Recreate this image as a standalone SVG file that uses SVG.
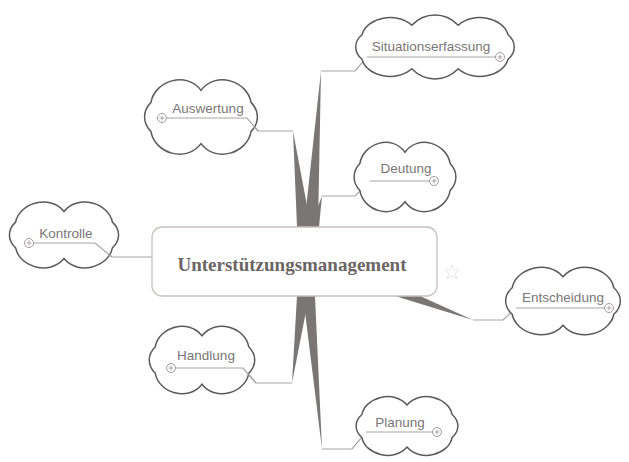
<svg xmlns="http://www.w3.org/2000/svg" xmlns:xlink="http://www.w3.org/1999/xlink" width="629" height="462" viewBox="0 0 629 462">
<style>
.cloud{fill:#fff;stroke:#5e5959;stroke-width:1.5}
.lbl{font-family:"Liberation Sans",Arial,sans-serif;font-size:13.5px;fill:#7a7676;text-anchor:middle}
.conn{fill:none;stroke:#a9a3a3;stroke-width:1.2}
.wedge{fill:#7b7676;stroke:none}
.exp{fill:#fff;stroke:#a29c9c;stroke-width:1}
.plus{stroke:#a29c9c;stroke-width:0.9}
</style>
<defs>
<path id="c2" vector-effect="non-scaling-stroke" d="M 9,33 C 12,8 38,-4 50,19 C 62,-4 88,8 91,33 C 98,43 98,57 91,67 C 88,92 62,104 50,81 C 38,104 12,92 9,67 C 2,57 2,43 9,33 Z"/>
<path id="c3" vector-effect="non-scaling-stroke" d="M 6,32 C 9,6 27,-2 36,18 C 44,-2 56,-2 64,18 C 73,-2 91,6 94,32 C 99,42 99,58 94,68 C 91,94 73,102 64,82 C 56,102 44,102 36,82 C 27,102 9,94 6,68 C 1,58 1,42 6,32 Z"/>
<g id="pl"><circle class="exp" r="4.5"/><path class="plus" d="M -2.5,0 H 2.5 M 0,-2.5 V 2.5"/></g>
</defs>
<rect width="629" height="462" fill="#fff"/>
<g id="connectors">
<polygon class="wedge" points="293,131 297,227 311,227"/>
<polygon class="wedge" points="321,71 304,227 318,227"/>
<polygon class="wedge" points="322,196 310,227 319,227"/>
<polygon class="wedge" points="292,383 297,296 309,296"/>
<polygon class="wedge" points="322,449 303,296 315,296"/>
<polygon class="wedge" points="395,296 420,296 473,320"/>
<polyline class="conn" points="166,118 247,118 258,131 293,131"/>
<polyline class="conn" points="321,71 355,71 367,57 496,57"/>
<polyline class="conn" points="322,196 355,196 370,181 430,181"/>
<polyline class="conn" points="33,243 95,243 112,257 152,257"/>
<polyline class="conn" points="473,320 503,320 516,308 605,308"/>
<polyline class="conn" points="175,368 243,368 256,383 292,383"/>
<polyline class="conn" points="322,449 352,449 366,432 433,432"/>
</g>
<g id="center">
<rect x="152" y="227" width="285" height="69" rx="10" fill="#fff" stroke="#c9bfbf" stroke-width="1.3"/>
<text x="292" y="271" text-anchor="middle" font-family="'Liberation Serif','Times New Roman',serif" font-weight="bold" font-size="19" fill="#6b6565">Unterstützungsmanagement</text>
<path d="M452,265 L454,270 L459,270 L455,273.5 L457,279 L452,275.5 L447,279 L449,273.5 L445,270 L450,270 Z" fill="none" stroke="#ece6e6" stroke-width="1"/>
</g>
<g id="n-situationserfassung">
<use xlink:href="#c3" class="cloud" transform="translate(352,13) scale(1.66,0.68)"/>
<polyline class="conn" points="367,57 496,57"/>
<text class="lbl" x="431" y="51">Situationserfassung</text>
<use xlink:href="#pl" x="500" y="57"/>
</g>
<g id="n-auswertung">
<use xlink:href="#c2" class="cloud" transform="translate(140,74) scale(1.22,0.86)"/>
<polyline class="conn" points="166,118 247,118 258,131"/>
<text class="lbl" x="208" y="113">Auswertung</text>
<use xlink:href="#pl" x="162" y="118"/>
</g>
<g id="n-deutung">
<use xlink:href="#c2" class="cloud" transform="translate(350,137) scale(1.10,0.80)"/>
<polyline class="conn" points="370,181 430,181"/>
<text class="lbl" x="406" y="173">Deutung</text>
<use xlink:href="#pl" x="434" y="181"/>
</g>
<g id="n-kontrolle">
<use xlink:href="#c2" class="cloud" transform="translate(5,197) scale(1.18,0.76)"/>
<polyline class="conn" points="33,243 95,243 112,257"/>
<text class="lbl" x="66" y="238">Kontrolle</text>
<use xlink:href="#pl" x="29" y="243"/>
</g>
<g id="n-entscheidung">
<use xlink:href="#c2" class="cloud" transform="translate(501,262) scale(1.24,0.78)"/>
<polyline class="conn" points="516,308 605,308"/>
<text class="lbl" x="563" y="302">Entscheidung</text>
<use xlink:href="#pl" x="609" y="308"/>
</g>
<g id="n-handlung">
<use xlink:href="#c2" class="cloud" transform="translate(145,321) scale(1.14,0.78)"/>
<polyline class="conn" points="175,368 243,368 256,383"/>
<text class="lbl" x="206" y="360">Handlung</text>
<use xlink:href="#pl" x="171" y="368"/>
</g>
<g id="n-planung">
<use xlink:href="#c2" class="cloud" transform="translate(352,392) scale(1.10,0.68)"/>
<polyline class="conn" points="366,432 433,432"/>
<text class="lbl" x="400" y="427">Planung</text>
<use xlink:href="#pl" x="437" y="432"/>
</g>
</svg>
